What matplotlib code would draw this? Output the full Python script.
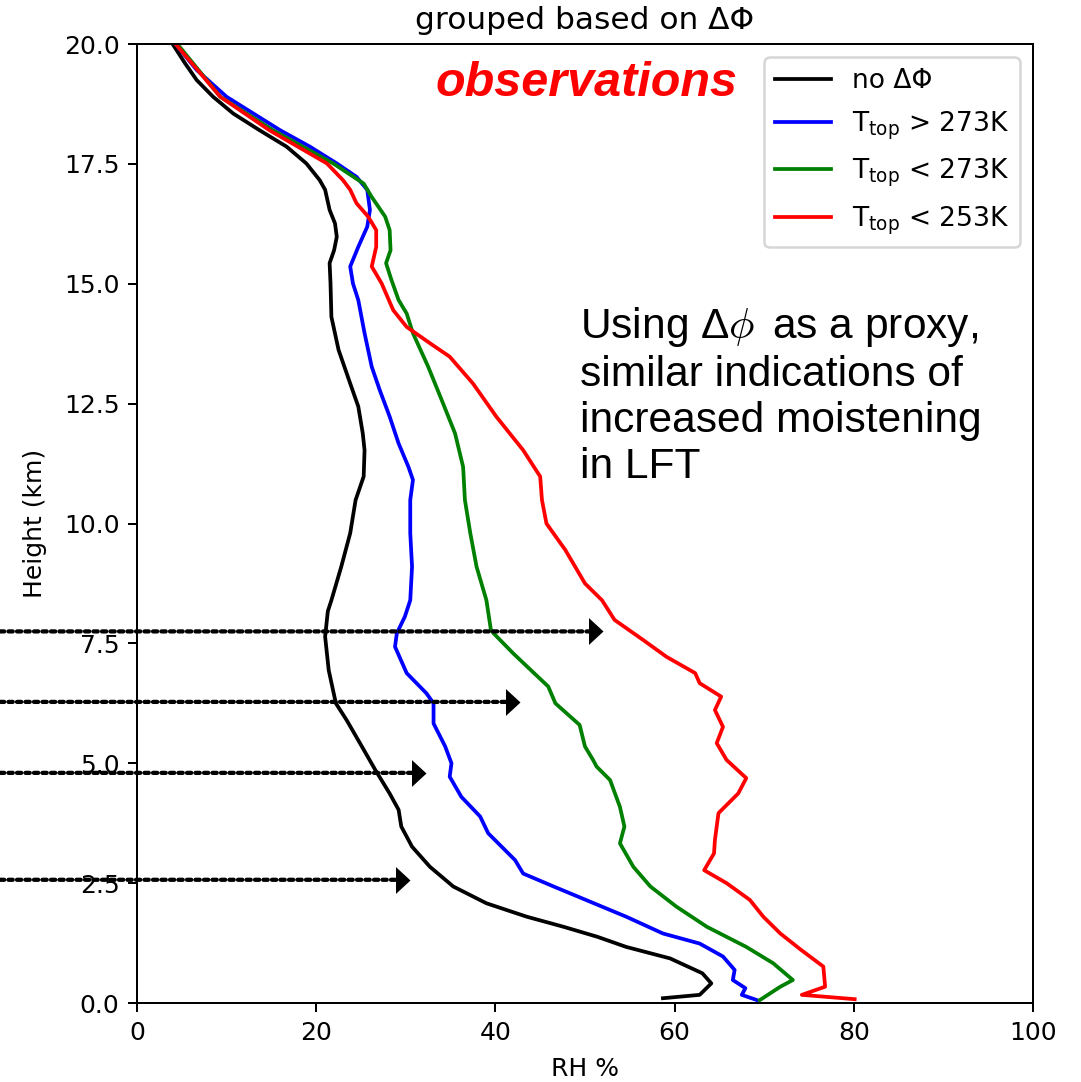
import matplotlib
matplotlib.use("Agg")
import matplotlib.pyplot as plt

# Mean relative-humidity profiles (height in km, RH in %)
no_dphi_h = [0.10, 0.17, 0.41, 0.62, 0.93, 1.17, 1.38, 1.59, 1.80, 2.08, 2.43, 2.84,
             3.26, 3.68, 4.03, 4.37, 4.86, 5.35, 5.90, 6.25, 6.94, 7.64, 8.17, 8.40,
             9.10, 9.80, 10.49, 10.98, 11.53, 11.88, 12.44, 12.92, 13.62, 14.31, 15.01,
             15.43, 15.70, 15.98, 16.26, 16.54, 16.96, 17.16, 17.51, 17.86, 18.20, 18.55,
             18.90, 19.25, 19.60, 19.98]
no_dphi_rh = [58.7, 62.8, 64.1, 63.1, 59.5, 54.6, 51.4, 47.6, 43.5, 39.0, 35.3, 32.7,
              30.7, 29.5, 29.2, 28.2, 26.6, 25.1, 23.4, 22.2, 21.4, 21.0, 21.3, 21.7,
              22.8, 23.8, 24.4, 25.3, 25.4, 25.2, 24.7, 23.8, 22.5, 21.7, 21.6,
              21.5, 22.0, 22.3, 22.1, 21.5, 21.0, 20.4, 18.9, 16.7, 13.7, 10.75,
              8.5, 6.66, 5.36, 4.05]

warm_h = [0.06, 0.17, 0.31, 0.48, 0.69, 0.97, 1.24, 1.45, 1.80, 2.08, 2.43, 2.70, 2.98,
          3.26, 3.54, 3.89, 4.30, 4.72, 5.00, 5.35, 5.83, 6.25, 6.46, 6.88, 7.43, 7.71,
          8.06, 8.40, 9.10, 9.80, 10.49, 10.91, 11.18, 11.67, 12.23, 12.78, 13.27, 13.97,
          14.66, 15.01, 15.36, 15.77, 16.19, 16.54, 16.96, 17.23, 17.51, 17.86, 18.20,
          18.55, 18.90, 19.46, 19.98]
warm_rh = [69.2, 67.5, 67.9, 66.5, 66.7, 65.4, 62.8, 58.7, 54.6, 51.0, 46.5, 43.1, 42.2,
           40.7, 39.2, 38.3, 36.2, 34.9, 35.1, 34.4, 33.1, 33.1, 32.3, 30.1, 28.8, 29.0,
           29.9, 30.5, 30.7, 30.5, 30.5, 30.8, 30.3, 29.2, 28.2, 27.1, 26.2, 25.4,
           24.7, 24.1, 23.8, 24.7, 25.7, 26.0, 25.7, 24.5, 22.3, 19.3, 16.0,
           13.0, 10.0, 6.66, 4.4]

cold_h = [0.06, 0.34, 0.48, 0.83, 1.17, 1.59, 2.01, 2.43, 2.84, 3.33, 3.68, 4.09, 4.65,
          4.93, 5.07, 5.35, 5.80, 6.25, 6.60, 7.29, 7.71, 7.78, 8.40, 9.10, 9.80, 10.49,
          11.18, 11.88, 12.58, 13.27, 13.97, 14.38, 14.66, 15.08, 15.43, 15.70, 16.12,
          16.40, 16.81, 17.09, 17.51, 18.20, 18.90, 19.98]
cold_rh = [69.5, 71.8, 73.2, 71.0, 68.0, 63.6, 60.2, 57.3, 55.4, 53.9, 54.4, 53.9, 52.8,
           51.3, 50.9, 50.0, 49.4, 46.7, 45.9, 42.0, 39.8, 39.5, 39.0, 37.9, 37.2, 36.6,
           36.4, 35.5, 34.0, 32.5, 30.8, 30.1, 29.2, 28.4, 27.8, 28.3, 28.2,
           27.7, 26.2, 25.3, 21.9, 15.2, 9.3, 4.6]

vcold_h = [0.08, 0.17, 0.34, 0.76, 1.11, 1.45, 1.80, 2.15, 2.50, 2.77, 3.12, 3.40, 3.96,
           4.37, 4.69, 5.07, 5.42, 5.76, 6.11, 6.39, 6.67, 6.88, 7.22, 7.57, 7.99, 8.40,
           8.75, 9.45, 10.00, 10.49, 10.98, 11.53, 12.23, 12.92, 13.48, 13.76, 14.10,
           14.45, 15.01, 15.36, 15.77, 16.12, 16.40, 16.68, 16.96, 17.16, 17.51, 18.20,
           18.90, 19.98]
vcold_rh = [80.1, 74.2, 76.8, 76.6, 74.1, 71.8, 69.9, 68.4, 65.8, 63.3, 64.4, 64.5, 64.9,
            67.1, 68.0, 65.8, 64.7, 65.4, 64.5, 65.2, 62.8, 62.3, 59.1, 56.5, 53.3, 51.9,
            50.0, 47.8, 45.7, 45.2, 45.0, 43.1, 40.1, 37.5, 34.9, 32.7, 30.1,
            28.6, 27.3, 26.2, 26.7, 26.7, 25.8, 24.5, 23.8, 23.0, 21.2, 14.8,
            9.3, 4.4]

labels = ["no ΔΦ", "T$_{\\rm top}$ > 273K", "T$_{\\rm top}$ < 273K", "T$_{\\rm top}$ < 253K"]
colors = ["k", "b", "g", "r"]

# Levels (km) and RH tips (%) of the highlighted arrows
arrow_levels = [7.75, 6.28, 4.80, 2.57]
arrow_tips = [52.0, 42.8, 32.3, 30.5]

xticks = [0, 20, 40, 60, 80, 100]
yticks = [0.0, 2.5, 5.0, 7.5, 10.0, 12.5, 15.0, 17.5, 20.0]

fig = plt.figure(figsize=(1081 / 180, 1082 / 180), dpi=180)
ax = fig.add_axes([0.1267, 0.0730, 0.8289, 0.8863])

profiles = [(no_dphi_rh, no_dphi_h), (warm_rh, warm_h), (cold_rh, cold_h), (vcold_rh, vcold_h)]
for (rh, h), lab, col in zip(profiles, labels, colors):
    ax.plot(rh, h, color=col, lw=1.5, label=lab)

ax.set_xlim(0, 100)
ax.set_ylim(0, 20)
ax.set_xticks(xticks)
ax.set_yticks(yticks)
ax.set_yticklabels([f"{v:.1f}" for v in yticks])
ax.set_xlabel("RH %", labelpad=5)
ax.set_ylabel("Height (km)", labelpad=6.5)
ax.set_title("grouped based on ΔΦ", fontsize=12.5)
ax.legend(loc="upper right", fontsize=10.6, labelspacing=0.58, handlelength=2.1)

ax.text(0.333, 0.959, "observations", transform=ax.transAxes, color="red",
        fontsize=19.4, fontweight="bold", fontstyle="italic",
        family="Liberation Sans", ha="left", va="center")

ax.text(0.494, 0.728,
        "Using Δ$\\phi\\,$ as a proxy,\nsimilar indications of\nincreased moistening\nin LFT",
        transform=ax.transAxes, fontsize=17, family="Liberation Sans",
        math_fontfamily="cm", ha="left", va="top", linespacing=1.2)

# dotted leaders from the left edge of the figure, closed by a solid triangular head
head = [(-1.08, -1.0), (0.0, 0.0), (-1.08, 1.0)]
for lev, tip in zip(arrow_levels, arrow_tips):
    ax.annotate("", xy=(tip, lev), xycoords="data",
                xytext=(0.0, lev), textcoords=("figure fraction", "data"),
                annotation_clip=False,
                arrowprops=dict(arrowstyle="-", color="k", lw=1.7,
                                linestyle=(0, (1.0, 1.0)), shrinkA=0, shrinkB=4))
    ax.plot([tip], [lev], linestyle="none", marker=head, markersize=11.6,
            color="k", markeredgewidth=0, clip_on=False)

fig.savefig("out.png", dpi=180)
